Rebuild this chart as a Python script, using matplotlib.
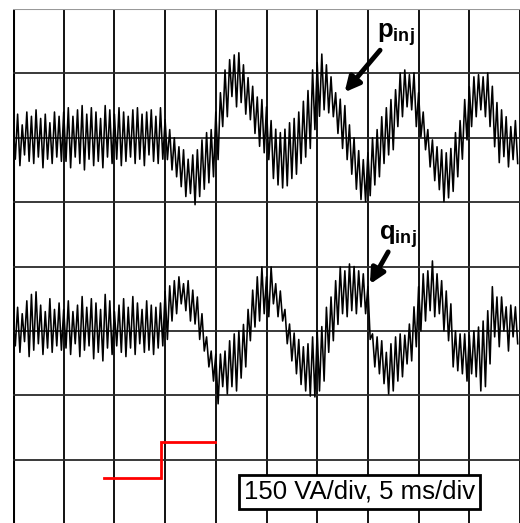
import matplotlib
matplotlib.use('Agg')
import matplotlib.pyplot as plt
import numpy as np

plt.rcParams['font.family'] = ['Liberation Sans', 'DejaVu Sans']
plt.rcParams['mathtext.fontset'] = 'custom'
plt.rcParams['mathtext.bf'] = 'Liberation Sans:bold'
plt.rcParams['mathtext.rm'] = 'Liberation Sans'

# scope settings
VA_PER_DIV = 150
MS_PER_DIV = 5
N_XDIV, N_YDIV = 10, 8
P_OFFSET_DIV = 6   # p_inj trace zero line
Q_OFFSET_DIV = 3   # q_inj trace zero line

# ripple peaks / troughs (VA, one pair per ripple cycle)
p_hi = [40, 55, 30, 60, 50, 65, 45, 55, 35, 60, 50,
        60, 70, 50, 65, 75, 55, 70, 60, 45, 75, 65, 55, 70, 60, 50, 65, 70, 55, 60, 65, 50, 70,
        42, 19, 0, -21, -28, -50, -40, -28, -5, 12, 19, 60,
        105, 158, 182, 193, 198, 170, 140, 120, 95, 89,
        72, 40, 20, 12, 20, 35, 45, 60, 85, 110, 158, 175, 195, 170,
        142, 105, 90, 75, 30, 0, -30, -51, -35, 0, 19, 49, 70, 89,
        112, 151, 158, 147, 151, 105, 60, 19, -5, -21, -28, -35, -25, 12, 40, 89, 119, 142,
        147, 142, 151, 120, 82, 65, 49, 26, 40]
p_lo = [-50, -65, -40, -55, -60, -45, -70, -50, -60, -45, -55,
        -55, -70, -45, -60, -75, -50, -65, -55, -70, -45, -60, -50, -65, -55, -45, -60, -50, -65, -40, -55, -60, -50,
        -51, -75, -91, -114, -137, -130, -156, -137, -120, -105, -91, -51,
        26, 49, 96, 72, 82, 55, 42, 10, -20, -35,
        -51, -95, -110, -117, -112, -95, -85, -60, -45, -25, 19, 50, 65, 58,
        49, 10, -25, -51, -85, -120, -144, -149, -135, -110, -91, -60, -40, -28,
        26, 49, 72, 65, 26, 2, -28, -68, -100, -121, -149, -140, -125, -91, -50, -5, 26, 49,
        65, 49, 26, -21, -58, -44, -68, -51, -60]

q_hi = [30, 55, 40, 70, 85, 91, 60, 45, 75, 50, 65,
        50, 70, 45, 60, 80, 55, 75, 65, 50, 85, 70, 45, 60, 75, 55, 80, 65, 50, 70, 60, 55, 65,
        92, 105, 117, 126, 110, 117, 95, 79, 40, -14, -47, -54, -54, -47, -23, -7, 0, 15, 50, 95, 126, 149,
        126, 149, 110, 93, 50, 16, -5, -20, -37, -30, -14, 0, 10, 55, 79, 117, 149, 140, 156, 150,
        140, 133, 103, -7, -14, -23, -50,
        -30, -14, -7, -10, 16, 56, 103, 133, 140, 163, 133, 117, 93, 63, 0, -7, -7, -10,
        0, 9, 23, 47, 103, 79, 79, 56, 60, 56]
q_lo = [-35, -50, -25, -60, -45, -30, -55, -40, -50, -35, -45,
        -40, -55, -30, -60, -45, -35, -65, -50, -70, -40, -55, -35, -50, -60, -40, -55, -30, -50, -45, -55, -40, -35,
        -20, 23, 40, 63, 47, 23, 16, -20, -47, -84, -117, -170, -130, -147, -130, -140, -110, -84, -23, 9, 23, 40,
        33, 63, 33, 23, -30, -70, -100, -125, -140, -152, -154, -140, -117, -50, -23, 15, 40, 33, 47, 40,
        56, 40, -20, -84, -100, -123, -147,
        -140, -117, -107, -77, -70, -37, 0, 23, 47, 33, 40, 0, -23, -84, -93, -100, -117, -100,
        -107, -140, -130, -77, -14, -37, 0, -47, -14, -30]

# reference step (red), in ms / VA on screen
step_t = [8.95, 14.6, 14.6, 19.9]
step_va = [108, 108, 192, 192]


def interleave(hi, lo):
    n = len(hi)
    dt = N_XDIV * MS_PER_DIV / n
    t = np.empty(2 * n)
    v = np.empty(2 * n)
    t[0::2] = np.arange(n) * dt
    t[1::2] = (np.arange(n) + 0.5) * dt
    v[0::2] = hi
    v[1::2] = lo
    return t, v


fig = plt.figure(figsize=(5.20, 5.23), dpi=100)
ax = fig.add_axes([13 / 520, -1 / 523, 507 / 520, 515 / 523])
ax.set_xlim(0, N_XDIV * MS_PER_DIV)
ax.set_ylim(0, N_YDIV * VA_PER_DIV)
ax.axis('off')

# screen graticule
for i in range(1, N_XDIV + 1):
    ax.axvline(i * MS_PER_DIV, color='#111111', lw=1.4, zorder=1)
ax.axvline(0, color='black', lw=2.2, zorder=1)
for j in range(1, N_YDIV):
    ax.axhline(j * VA_PER_DIV, color='#2a2a2a', lw=1.3, zorder=1)
ax.axhline(N_YDIV * VA_PER_DIV, color='#999999', lw=1.5, zorder=1)

t, v = interleave(p_hi, p_lo)
ax.plot(t, v + P_OFFSET_DIV * VA_PER_DIV, color='black', lw=1.15, zorder=3)
t, v = interleave(q_hi, q_lo)
ax.plot(t, v + Q_OFFSET_DIV * VA_PER_DIV, color='black', lw=1.15, zorder=3)

ax.plot(step_t, step_va, color='red', lw=2, zorder=3, solid_joinstyle='miter')

# trace labels + arrows
ax.text(35.9, 1133, r'$\mathbf{p}_{\mathbf{inj}}$', fontsize=18.5, ha='left', va='baseline', zorder=4)
ax.text(36.1, 662, r'$\mathbf{q}_{\mathbf{inj}}$', fontsize=18.5, ha='left', va='baseline', zorder=4)
arrow = dict(arrowstyle='-|>', lw=3.5, mutation_scale=22, color='black', shrinkA=0, shrinkB=0)
ax.annotate('', xy=(32.7, 1006), xytext=(36.2, 1104), arrowprops=arrow, zorder=4)
ax.annotate('', xy=(35.2, 559), xytext=(37.0, 634), arrowprops=arrow, zorder=4)

ax.text(34.2, 75, '150 VA/div, 5 ms/div', fontsize=18.5, ha='center', va='center', zorder=5,
        bbox=dict(boxstyle='square,pad=0.2', fc='white', ec='black', lw=2))

fig.savefig('out.png', dpi=100, facecolor='white')
